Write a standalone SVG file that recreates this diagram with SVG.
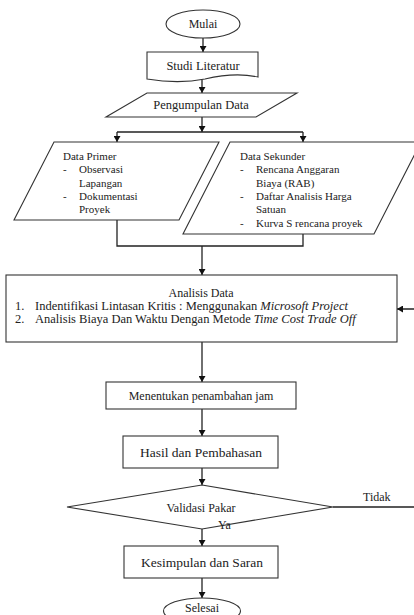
<svg xmlns="http://www.w3.org/2000/svg" width="414" height="615" viewBox="0 0 414 615">
<style>
.s{fill:#fff;stroke:#333;stroke-width:1.1}
.c{fill:none;stroke:#222;stroke-width:1.3}
text{font-family:"Liberation Serif","Times New Roman",serif;fill:#222}
.m{text-anchor:middle}
.f11{font-size:11px}
.f12{font-size:12px}
.f125{font-size:12.5px}
.f135{font-size:13.5px}
</style>
<defs>
<marker id="ah" markerWidth="6" markerHeight="7" refX="6" refY="3.5" orient="auto" markerUnits="userSpaceOnUse">
<path d="M0,0 L6,3.5 L0,7 Z" fill="#111"/>
</marker>
</defs>
<rect width="414" height="615" fill="#fff"/>
<g id="connectors">
<path class="c" d="M203,38 V52" marker-end="url(#ah)"/>
<path class="c" d="M202,79 V93" marker-end="url(#ah)"/>
<path class="c" d="M202,117 V132" marker-end="url(#ah)"/>
<path class="c" d="M117,132 H303"/>
<path class="c" d="M117,132 V142" marker-end="url(#ah)"/>
<path class="c" d="M303,132 V142" marker-end="url(#ah)"/>
<path class="c" d="M117,220 V246 H303 V234"/>
<path class="c" d="M202,246 V275" marker-end="url(#ah)"/>
<path class="c" d="M202,342 V382" marker-end="url(#ah)"/>
<path class="c" d="M202,409 V436" marker-end="url(#ah)"/>
<path class="c" d="M202,468 V485" marker-end="url(#ah)"/>
<path class="c" d="M202,529 V546" marker-end="url(#ah)"/>
<path class="c" d="M202,578 V598" marker-end="url(#ah)"/>
<path class="c" d="M333,507 H420 V309 H397" marker-end="url(#ah)"/>
</g>
<g id="mulai">
<ellipse class="s" cx="203" cy="24" rx="37" ry="14"/>
<text class="f12 m" x="203" y="28">Mulai</text>
</g>
<g id="studi-literatur">
<path class="s" d="M147,52 H258 V77 C240,73 222,75 205,79 C185,83 165,82 147,79 Z"/>
<text class="f125 m" x="203" y="70">Studi Literatur</text>
</g>
<g id="pengumpulan-data">
<polygon class="s" points="147,93 297,93 256,117 106,117"/>
<text class="f125 m" x="201" y="109">Pengumpulan Data</text>
</g>
<g id="data-primer">
<polygon class="s" points="54,142 219,142 179,220 14,220"/>
<text class="f11" x="63" y="160">Data Primer</text>
<text class="f11" x="63" y="173.3">-</text>
<text class="f11" x="79" y="173.3">Observasi</text>
<text class="f11" x="79" y="186.6">Lapangan</text>
<text class="f11" x="63" y="200">-</text>
<text class="f11" x="79" y="200">Dokumentasi</text>
<text class="f11" x="79" y="213.3">Proyek</text>
</g>
<g id="data-sekunder">
<polygon class="s" points="230,142 421,142 374,234 183,234"/>
<text class="f11" x="240" y="160">Data Sekunder</text>
<text class="f11" x="240" y="173.3">-</text>
<text class="f11" x="256" y="173.3">Rencana Anggaran</text>
<text class="f11" x="256" y="186.6">Biaya (RAB)</text>
<text class="f11" x="240" y="200">-</text>
<text class="f11" x="256" y="200">Daftar Analisis Harga</text>
<text class="f11" x="256" y="213.3">Satuan</text>
<text class="f11" x="240" y="226.6">-</text>
<text class="f11" x="256" y="226.6">Kurva S rencana proyek</text>
</g>
<g id="analisis-data">
<rect class="s" x="6" y="275" width="391" height="67"/>
<text class="f12 m" x="201" y="297">Analisis Data</text>
<text class="f125" x="15" y="310">1.</text>
<text class="f125" x="35" y="310">Indentifikasi Lintasan Kritis : Menggunakan <tspan font-style="italic">Microsoft Project</tspan></text>
<text class="f125" x="15" y="322.5">2.</text>
<text class="f125" x="35" y="322.5">Analisis Biaya Dan Waktu Dengan Metode <tspan font-style="italic">Time Cost Trade Off</tspan></text>
</g>
<g id="menentukan">
<rect class="s" x="106" y="382" width="190" height="27"/>
<text class="f12 m" x="201" y="400">Menentukan penambahan jam</text>
</g>
<g id="hasil">
<rect class="s" x="123" y="436" width="155" height="32"/>
<text class="f135 m" x="201" y="456.5">Hasil dan Pembahasan</text>
</g>
<g id="validasi">
<polygon class="s" points="202,485 333,507 202,529 67,507"/>
<text class="f12 m" x="201" y="512">Validasi Pakar</text>
</g>
<g id="kesimpulan">
<rect class="s" x="124" y="546" width="154" height="32"/>
<text class="f135 m" x="202" y="566.5">Kesimpulan dan Saran</text>
</g>
<g id="selesai">
<ellipse class="s" cx="202" cy="611" rx="38.5" ry="13"/>
<text class="f12 m" x="202" y="612">Selesai</text>
</g>
<g id="connector-labels">
<text class="f12" x="363" y="501">Tidak</text>
<text class="f12" x="218" y="529">Ya</text>
</g>
</svg>
